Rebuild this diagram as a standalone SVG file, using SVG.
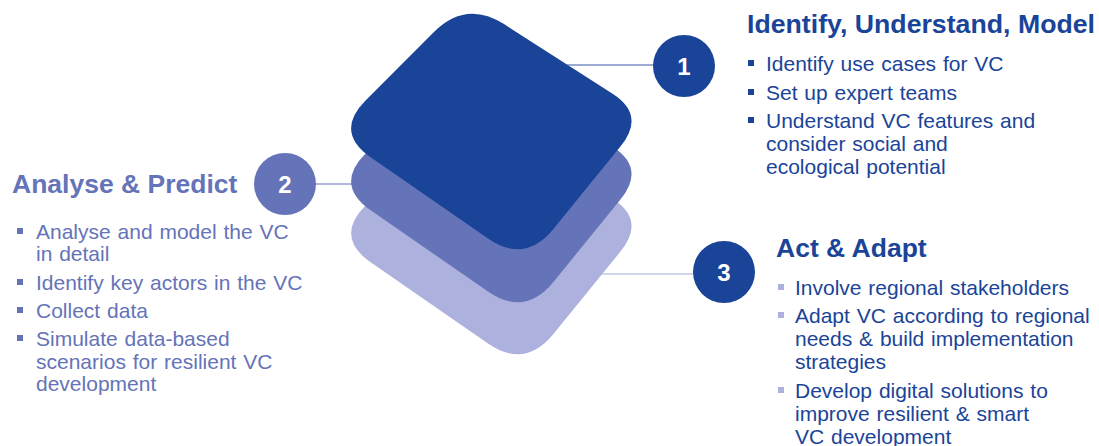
<svg xmlns="http://www.w3.org/2000/svg" width="1099" height="446" viewBox="0 0 1099 446">
<style>
.t{font-family:"Liberation Sans",Arial,sans-serif;font-weight:bold;font-size:26.5px}
.b{font-family:"Liberation Sans",Arial,sans-serif;font-size:21px;word-spacing:1px}
.n{font-family:"Liberation Sans",Arial,sans-serif;font-weight:bold;font-size:24px;fill:#fff;text-anchor:middle}
.dk{fill:#1A4498}.md{fill:#6573B8}.lt{fill:#ADB1DD}
</style>
<defs>
<path id="tile" d="M434.2,31.8 Q466,0 504,24.1 L612.2,93.6 Q646,115 620.8,146.1 L553.4,229 Q525,264 488,238.4 L371,157.6 Q334,132 365.8,100.2 Z"/>
<rect id="sq" width="6" height="6"/>
</defs>
<g id="layers">
<use href="#tile" class="lt" transform="translate(0,105)"/>
<use href="#tile" class="md" transform="translate(0,53)"/>
<use href="#tile" class="dk"/>
</g>
<g id="connectors" stroke-width="1.2">
<line x1="567" y1="65" x2="654" y2="65" stroke="#3A58A4"/>
<line x1="315" y1="184" x2="354" y2="184" stroke="#6573B8"/>
<line x1="602" y1="274" x2="694" y2="274" stroke="#A6ADDA"/>
</g>
<g id="node1">
<circle cx="684" cy="66" r="31" class="dk"/>
<text x="684" y="75" class="n">1</text>
<text x="747" y="33" class="t dk" textLength="348" lengthAdjust="spacingAndGlyphs">Identify, Understand, Model</text>
<g class="dk">
<use href="#sq" x="748" y="60"/><use href="#sq" x="748" y="89"/><use href="#sq" x="748" y="117"/>
</g>
<g class="b dk">
<text x="766" y="71">Identify use cases for VC</text>
<text x="766" y="100">Set up expert teams</text>
<text x="766" y="128">Understand VC features and</text>
<text x="766" y="151">consider social and</text>
<text x="766" y="174">ecological potential</text>
</g>
</g>
<g id="node2">
<circle cx="285" cy="184" r="31" class="md"/>
<text x="285" y="193" class="n">2</text>
<text x="12" y="193" class="t md">Analyse &amp; Predict</text>
<g class="md">
<use href="#sq" x="17" y="228"/><use href="#sq" x="17" y="279"/><use href="#sq" x="17" y="307"/><use href="#sq" x="17" y="335"/>
</g>
<g class="b md">
<text x="36" y="239">Analyse and model the VC</text>
<text x="36" y="261">in detail</text>
<text x="36" y="290">Identify key actors in the VC</text>
<text x="36" y="318">Collect data</text>
<text x="36" y="346">Simulate data-based</text>
<text x="36" y="369">scenarios for resilient VC</text>
<text x="36" y="391">development</text>
</g>
</g>
<g id="node3">
<circle cx="724" cy="272" r="31" class="dk"/>
<text x="724" y="281" class="n">3</text>
<text x="776" y="257" class="t dk">Act &amp; Adapt</text>
<g class="lt">
<use href="#sq" x="778" y="284"/><use href="#sq" x="778" y="312"/><use href="#sq" x="778" y="387"/>
</g>
<g class="b dk">
<text x="795" y="295">Involve regional stakeholders</text>
<text x="795" y="323">Adapt VC according to regional</text>
<text x="795" y="346">needs &amp; build implementation</text>
<text x="795" y="369">strategies</text>
<text x="795" y="398">Develop digital solutions to</text>
<text x="795" y="421">improve resilient &amp; smart</text>
<text x="795" y="444">VC development</text>
</g>
</g>
</svg>
